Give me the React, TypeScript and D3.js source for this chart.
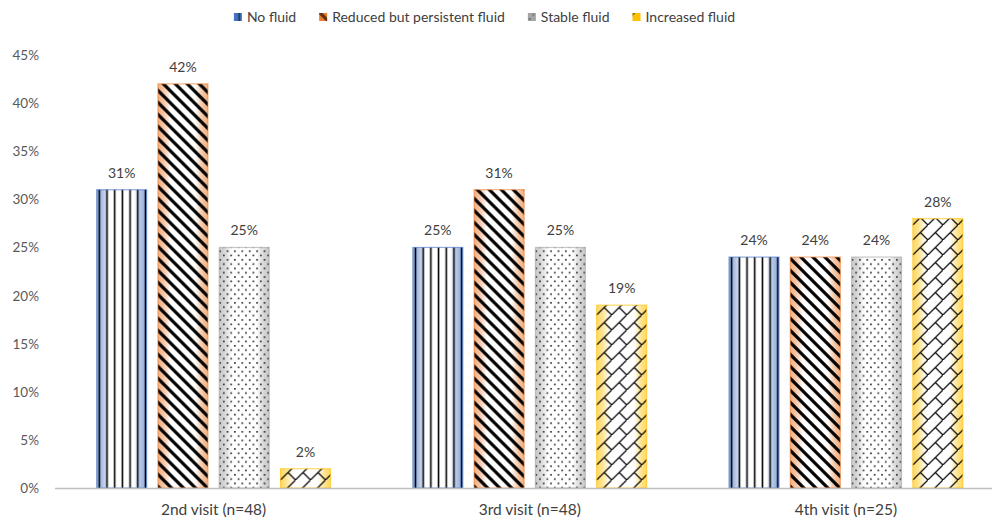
import React, { useEffect, useRef } from "react";
import * as d3 from "d3";

// Share of eyes per fluid outcome at each follow-up visit (%)
const categories = ["2nd visit (n=48)", "3rd visit (n=48)", "4th visit (n=25)"];
const seriesNames = ["No fluid", "Reduced but persistent fluid", "Stable fluid", "Increased fluid"];
const noFluid = [31, 25, 24];
const reducedFluid = [42, 31, 24];
const stableFluid = [25, 25, 24];
const increasedFluid = [2, 19, 28];
const yTicks = [0, 5, 10, 15, 20, 25, 30, 35, 40, 45];

const seriesValues = [noFluid, reducedFluid, stableFluid, increasedFluid];
const seriesColors = ["#4472C4", "#ED7D31", "#A5A5A5", "#FFC000"];
const patternIds = ["pat-vert", "pat-diag", "pat-dots", "pat-brick"];

const W = 992;
const H = 518;
const FONT = "Lato, 'Open Sans', sans-serif";

export default function App() {
  const ref = useRef<SVGSVGElement | null>(null);

  useEffect(() => {
    const svg = d3.select(ref.current);
    svg.selectAll("*").remove();

    const defs = svg.append("defs");

    // edge-coloured gradients fading to white in the middle of each bar
    seriesColors.forEach((c, i) => {
      const g = defs
        .append("linearGradient")
        .attr("id", `grad-${i}`)
        .attr("x1", "0")
        .attr("x2", "1")
        .attr("y1", "0")
        .attr("y2", "0");
      g.append("stop").attr("offset", "0%").attr("stop-color", c).attr("stop-opacity", 0.6);
      g.append("stop").attr("offset", "25%").attr("stop-color", "#fff").attr("stop-opacity", 1);
      g.append("stop").attr("offset", "75%").attr("stop-color", "#fff").attr("stop-opacity", 1);
      g.append("stop").attr("offset", "100%").attr("stop-color", c).attr("stop-opacity", 0.6);
    });

    // vertical lines
    const pv = defs
      .append("pattern")
      .attr("id", patternIds[0])
      .attr("patternUnits", "userSpaceOnUse")
      .attr("width", 7.7)
      .attr("height", 8);
    pv.append("rect").attr("x", 4.5).attr("y", 0).attr("width", 1.6).attr("height", 8).attr("fill", "#000");

    // wide downward diagonal stripes
    const pd = defs
      .append("pattern")
      .attr("id", patternIds[1])
      .attr("patternUnits", "userSpaceOnUse")
      .attr("width", 12)
      .attr("height", 12);
    pd.append("path")
      .attr("d", "M-3,-3 L15,15 M-3,9 L3,15 M9,-3 L15,3")
      .attr("stroke", "#000")
      .attr("stroke-width", 3.2);

    // dotted grid
    const pdt = defs
      .append("pattern")
      .attr("id", patternIds[2])
      .attr("patternUnits", "userSpaceOnUse")
      .attr("width", 7.4)
      .attr("height", 8.6);
    pdt.append("rect").attr("x", 1).attr("y", 1).attr("width", 1.6).attr("height", 1.6).attr("fill", "#222");
    pdt.append("rect").attr("x", 4.7).attr("y", 5.3).attr("width", 1.6).attr("height", 1.6).attr("fill", "#222");

    // diagonal brick
    const T = 15;
    const pb = defs
      .append("pattern")
      .attr("id", patternIds[3])
      .attr("patternUnits", "userSpaceOnUse")
      .attr("width", T)
      .attr("height", T);
    pb.append("path")
      .attr(
        "d",
        `M-1,${T + 1} L${T + 1},-1 M${T / 2},${T / 2} L${T},${T} M${-T / 2},${T / 2} L0,${T} M${T / 2},${-T / 2} L${T},0`
      )
      .attr("stroke", "#111")
      .attr("stroke-width", 1.3)
      .attr("fill", "none");

    const x0 = d3.scaleBand<string>().domain(categories).range([55.5, 1004]).paddingInner(0).paddingOuter(0);
    const x1 = d3
      .scaleBand<string>()
      .domain(seriesNames)
      .range([0, x0.bandwidth()])
      .paddingInner(0.184)
      .paddingOuter(0.672);
    const y = d3.scaleLinear().domain([0, 45]).range([488, 55]);

    // y tick labels (no gridlines)
    svg
      .append("g")
      .selectAll("text")
      .data(yTicks)
      .join("text")
      .attr("x", 39)
      .attr("y", (d) => y(d) + 5)
      .attr("text-anchor", "end")
      .attr("font-family", FONT)
      .attr("font-size", 13.5)
      .attr("fill", "#595959")
      .text((d) => `${d}%`);

    // bars
    const groups = svg
      .append("g")
      .selectAll("g")
      .data(categories)
      .join("g")
      .attr("transform", (c) => `translate(${x0(c)},0)`);

    groups.each(function (cat, ci) {
      const g = d3.select(this);
      seriesNames.forEach((s, si) => {
        const v = seriesValues[si][ci];
        const bx = x1(s)!;
        const bw = x1.bandwidth();
        const top = y(v);
        const h = y(0) - top;
        g.append("rect")
          .attr("x", bx)
          .attr("y", top)
          .attr("width", bw)
          .attr("height", h)
          .attr("fill", `url(#grad-${si})`);
        g.append("rect")
          .attr("x", bx)
          .attr("y", top)
          .attr("width", bw)
          .attr("height", h)
          .attr("fill", `url(#${patternIds[si]})`)
          .attr("stroke", seriesColors[si])
          .attr("stroke-opacity", 0.6)
          .attr("stroke-width", 1.2);
        g.append("text")
          .attr("x", bx + bw / 2)
          .attr("y", top - 12)
          .attr("text-anchor", "middle")
          .attr("font-family", FONT)
          .attr("font-size", 14)
          .attr("fill", "#404040")
          .text(`${v}%`);
      });
    });

    // baseline
    svg
      .append("line")
      .attr("x1", 55)
      .attr("x2", W)
      .attr("y1", y(0) + 0.5)
      .attr("y2", y(0) + 0.5)
      .attr("stroke", "#BFBFBF")
      .attr("stroke-width", 1.5);

    // category labels
    svg
      .append("g")
      .selectAll("text")
      .data(categories)
      .join("text")
      .attr("x", (c) => x0(c)! + x0.bandwidth() / 2)
      .attr("y", 515)
      .attr("text-anchor", "middle")
      .attr("font-family", FONT)
      .attr("font-size", 15.5)
      .attr("fill", "#404040")
      .text((c) => c);

    // legend, centred across the top
    const legend = svg.append("g");
    const items = legend
      .selectAll("g")
      .data(seriesNames)
      .join("g");
    items
      .append("rect")
      .attr("width", 8)
      .attr("height", 8)
      .attr("y", 13)
      .attr("fill", (_, i) => seriesColors[i]);
    items
      .append("rect")
      .attr("width", 8)
      .attr("height", 8)
      .attr("y", 13)
      .attr("fill", (_, i) => `url(#${patternIds[i]})`)
      .attr("opacity", 0.6);
    const labels = items
      .append("text")
      .attr("x", 13)
      .attr("y", 22)
      .attr("font-family", FONT)
      .attr("font-size", 14)
      .attr("fill", "#404040")
      .text((d) => d);
    let cursor = 0;
    const offsets: number[] = [];
    labels.each(function () {
      offsets.push(cursor);
      cursor += 13 + (this as SVGTextElement).getComputedTextLength() + 23;
    });
    const total = cursor - 23;
    const start = 484.5 - total / 2;
    items.attr("transform", (_, i) => `translate(${start + offsets[i]},0)`);
  }, []);

  return (
    <svg
      ref={ref}
      width={W}
      height={H}
      style={{ position: "absolute", left: 0, top: 0, background: "#fff" }}
    />
  );
}
